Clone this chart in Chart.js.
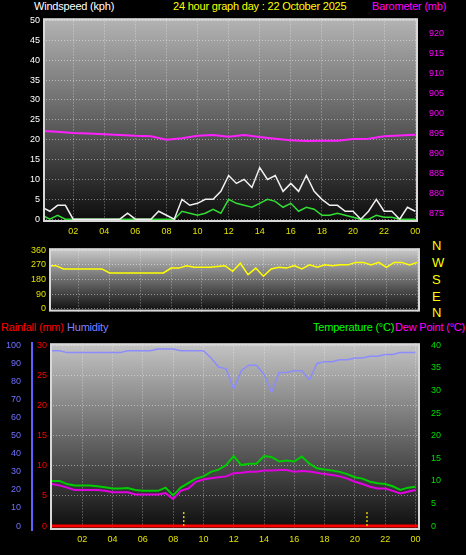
<!DOCTYPE html>
<html>
<head>
<meta charset="utf-8">
<script src="https://cdn.jsdelivr.net/npm/chart.js@4"></script>
<style>
  body { margin: 0; background: #000; width: 466px; height: 555px; overflow: hidden; position: relative; font-family: "Liberation Sans", Arial, sans-serif; }
  canvas { position: absolute; left: 0; }
  .t { position: absolute; font-size: 11px; line-height: 12px; white-space: nowrap; letter-spacing: -0.2px; }
  .c { position: absolute; left: 432px; color: #ffff00; font-size: 13px; line-height: 13px; }
</style>
</head>
<body>
<div class="t" style="left:34px;top:0;color:#fff">Windspeed (kph)</div>
<div class="t" style="left:173px;top:0;color:#ffff00">24 hour graph day : 22 October 2025</div>
<div class="t" style="left:372px;top:0;color:#ff00ff">Barometer (mb)</div>
<div class="c" style="top:239px">N</div>
<div class="c" style="top:256px">W</div>
<div class="c" style="top:273px">S</div>
<div class="c" style="top:290px">E</div>
<div class="c" style="top:306px">N</div>
<div class="t" style="left:1px;top:321px;color:#ff0000">Rainfall (mm)</div>
<div class="t" style="left:67px;top:321px;color:#8080ff">Humidity</div>
<div class="t" style="left:313px;top:321px;color:#00ff00">Temperature (°C)</div>
<div class="t" style="left:395px;top:321px;color:#ff00ff">Dew Point (°C)</div>
<div class="t" style="left:352px;top:502px;color:#c8b400;font-size:11px">Sun Set</div>

<canvas id="c1" width="466" height="230" style="top:10px"></canvas>
<canvas id="c2" width="466" height="80" style="top:240px"></canvas>
<canvas id="c3" width="466" height="220" style="top:335px"></canvas>

<script>
const HOURS = [0,1,2,3,4,5,6,7,8,9,10,11,12,13,14,15,16,17,18,19,20,21,22,23,24];
const HALF = [0,0.5,1,1.5,2,2.5,3,3.5,4,4.5,5,5.5,6,6.5,7,7.5,8,8.5,9,9.5,10,10.5,11,11.5,12,12.5,13,13.5,14,14.5,15,15.5,16,16.5,17,17.5,18,18.5,19,19.5,20,20.5,21,21.5,22,22.5,23,23.5,24];

const baro = [895.6,895.4,895.1,895.0,894.8,894.6,894.4,894.3,893.4,893.8,894.4,894.6,894.2,894.6,894.1,893.7,893.3,893.1,893.2,893.2,893.6,893.7,894.3,894.5,894.7];
const gust = [3,2,3.5,3.5,0,0,0,0,0,0,0,1.5,0,0,0,2,1,0,5,
  3.5,4,5,5,7,11,9,10,8,13,10,11,7,9,7,11,7,5,3.5,3.5,2,2,0,2,5,2,2,0,3,2];
const windAvg = [1,0,1,0,0,0,0,0,0,0,0,0,0,0,0,0,0,0,2,
  1.5,1,1.5,2.5,1.5,5,4,3.5,3,4,5,4.5,3,4,2,3,2.5,1,1,1.5,1,0.5,0,0,1,0.5,0.5,0,0,0];
const windDir = [265,265,245,245,245,245,245,245,220,220,220,220,220,220,220,220,250,250,
  265,255,255,255,260,265,230,280,210,250,200,245,255,250,265,245,270,255,270,265,270,270,285,285,270,285,255,285,285,270,285];
const humidity = [97,97,96,96,96,96,96,96,96,96,97,97,97,97,98,98,98,97,97,97,
  97,93,88,87,76,86,89,89,84,74,85,85,86,86,81,90,91,91,92,92,93,93,94,94,95,95,96,96,96];
const temp = [10,10,9.3,9,9,9,8.8,8.6,8.3,8.3,8.4,8,7.8,7.8,7.8,8.5,6.8,8.5,9.5,10.5,11,12,12.5,13.5,15.5,13.5,13.8,13.8,15.5,15.3,14.3,14.5,14.3,15.4,13.8,12.8,12.5,12.3,12,11.5,10.8,10.5,9.8,9.5,9.3,8.8,8,8.5,8.7];
const dew = [9.3,9,8.5,8,8,8,8,7.8,7.5,7.5,7.5,7,7,7,7,7.3,6,7.8,8.3,9.8,10.3,10.6,10.8,11,11.7,11.8,12,12,12.3,12.3,12.4,12.4,12,12.2,12.1,11.8,11.5,11.3,11,10.5,9.8,9.3,8.7,8.3,8.3,7.8,7.2,7.6,8];
const sunTimes = [8.7, 20.8];

const pts = (xs, ys) => xs.map((x, i) => ({ x, y: ys[i] }));
const fixedTicks = (vals) => (axis) => { axis.ticks = vals.map(v => ({ value: v })); };
const range = (a, b, s) => { const r = []; for (let v = a; v <= b; v += s) r.push(v); return r; };

const FONT = { family: 'Liberation Sans', size: 9 };
const GRID = { color: 'rgba(255,255,255,0.45)', tickColor: 'transparent' };
const GRID_DASH = { dash: [1, 2] };

// gradient background + frame for the plot area
const bgPlugin = {
  id: 'bg',
  beforeDraw(chart, args, opts) {
    const { ctx, chartArea: a } = chart;
    const g = ctx.createLinearGradient(0, a.top, 0, a.bottom);
    g.addColorStop(0, opts.top);
    g.addColorStop(1, '#0c0c0c');
    ctx.save();
    ctx.fillStyle = g;
    ctx.fillRect(a.left, a.top, a.right - a.left, a.bottom - a.top);
    ctx.restore();
  },
  afterDraw(chart) {
    const { ctx, chartArea: a } = chart;
    ctx.save();
    ctx.strokeStyle = '#d8d8d8';
    ctx.lineWidth = 2;
    ctx.strokeRect(a.left + 1, a.top + 1, a.right - a.left - 2, a.bottom - a.top - 2);
    ctx.restore();
  }
};
Chart.register(bgPlugin);

function xAxis(min, max, show) {
  return {
    type: 'linear', min, max,
    afterBuildTicks: fixedTicks(range(2, 24, 2)),
    grid: { ...GRID, drawTicks: false },
    border: { display: false, ...GRID_DASH },
    ticks: { display: show, color: '#e0e000', font: FONT, padding: 4,
      callback: v => String(v % 24).padStart(2, '0') },
    afterFit: ax => { ax.height = show ? 18 : 4; }
  };
}

function yAxis(pos, min, max, vals, color, width, extra) {
  return Object.assign({
    type: 'linear', position: pos, min, max,
    afterBuildTicks: fixedTicks(vals),
    grid: { display: false },
    border: { display: false },
    ticks: { color, font: FONT, padding: 3 },
    afterFit: ax => { ax.width = width; }
  }, extra || {});
}

const lineDs = (data, color, axis, w) => ({
  data, borderColor: color, borderWidth: w || 1.5, pointRadius: 0, tension: 0, yAxisID: axis, xAxisID: 'x'
});

const common = { responsive: false, animation: false, plugins: { legend: { display: false }, tooltip: { enabled: false } } };

// windspeed & barometer
new Chart(document.getElementById('c1'), {
  type: 'line',
  data: { datasets: [
    lineDs(pts(HALF, gust), '#f0f0f0', 'y', 1.5),
    lineDs(pts(HALF, windAvg), '#33dd33', 'y', 1.5),
    lineDs(pts(HOURS, baro), '#ff20ff', 'yb', 2)
  ] },
  options: { ...common,
    scales: {
      x: xAxis(0.06, 24.18, true),
      y: Object.assign(yAxis('left', -0.7, 50.5, range(0, 50, 5), '#ffffff', 43),
        { grid: { ...GRID, drawTicks: false }, border: { display: false, ...GRID_DASH } }),
      yb: yAxis('right', 872.8, 923.85, range(875, 920, 5), '#ff00ff', 48)
    },
    plugins: { ...common.plugins, bg: { top: '#b4b4b4' } }
  }
});

// wind direction
new Chart(document.getElementById('c2'), {
  type: 'line',
  data: { datasets: [ lineDs(pts(HALF, windDir), '#ffff00', 'y', 1.5) ] },
  options: { ...common,
    layout: { padding: { top: 5, bottom: 3 } },
    scales: {
      x: xAxis(0.06, 24.18, false),
      y: Object.assign(yAxis('left', -17, 371, [0, 90, 180, 270, 360], '#e0e000', 49),
        { grid: { ...GRID, drawTicks: false }, border: { display: false, ...GRID_DASH } }),
      yr: yAxis('right', -17, 371, [], '#000', 46, { ticks: { display: false } })
    },
    plugins: { ...common.plugins, bg: { top: '#cccccc' } }
  }
});

// rainfall, humidity, temperature, dew point
const sunDs = sunTimes.map(t => ({
  data: [{ x: t, y: 0 }, { x: t, y: 3.3 }], borderColor: '#e0d000', borderWidth: 1.5,
  borderDash: [2, 2], pointRadius: 0, yAxisID: 'yt', xAxisID: 'x'
}));
new Chart(document.getElementById('c3'), {
  type: 'line',
  data: { datasets: [
    ...sunDs,
    { ...lineDs([{ x: -0.13, y: 0 }, { x: 24.3, y: 0 }], '#ff0000', 'yr', 3) },
    lineDs(pts(HALF, humidity), '#8c8cff', 'yh', 1.5),
    lineDs(pts(HALF, dew), '#e000e0', 'yt', 2),
    lineDs(pts(HALF, temp), '#00cc00', 'yt', 2)
  ] },
  options: { ...common,
    layout: { padding: { top: 5 } },
    scales: {
      x: Object.assign(xAxis(-0.13, 24.3, true), { afterFit: ax => { ax.height = 25; } }),
      yr: Object.assign(yAxis('left', -0.65, 30.33, range(0, 30, 5), '#ff0000', 18),
        { grid: { ...GRID, drawTicks: false }, border: { display: false, ...GRID_DASH } }),
      yh: yAxis('left', -2.2, 101.1, range(0, 100, 10), '#7070ff', 32,
        { border: { display: true, color: '#6060ff', width: 2 } }),
      yt: yAxis('right', -0.87, 40.43, range(0, 40, 5), '#00dd00', 46)
    },
    plugins: { ...common.plugins, bg: { top: '#c4c4c4' } }
  }
});
</script>
</body>
</html>
